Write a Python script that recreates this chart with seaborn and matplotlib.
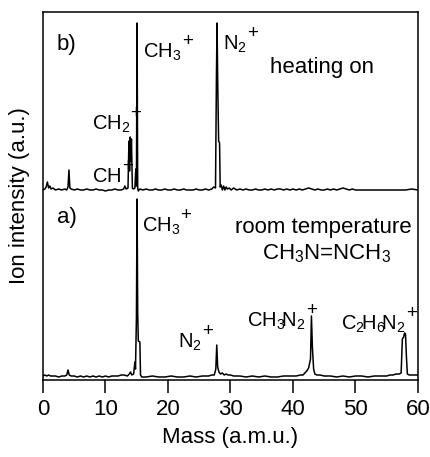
import matplotlib
matplotlib.use("Agg")
import matplotlib.pyplot as plt
import seaborn as sns
import pandas as pd

# ---------------- data ----------------
mass_a = [0.0, 0.3, 0.6, 0.9, 1.2, 1.5, 2.0, 2.5, 3.0, 3.5,
          3.8, 4.0, 4.2, 4.5, 5.0, 5.5, 6.0, 6.5, 7.0, 7.5,
          8.0, 8.5, 9.0, 9.5, 10.0, 10.5, 11.0, 11.5, 12.0, 12.5,
          13.0, 13.5, 13.8, 14.0, 14.2, 14.5, 14.7, 14.8, 14.95, 15.05,
          15.15, 15.25, 15.5, 15.6, 15.8, 16.5, 17.5, 18.5, 19.5, 20.5,
          21.5, 22.5, 23.5, 24.5, 25.5, 26.5, 27.0, 27.4, 27.65, 27.8,
          27.95, 28.15, 28.4, 28.7, 29.0, 29.3, 29.6, 30.0, 30.5, 31.5,
          32.5, 33.5, 34.5, 35.5, 36.5, 37.5, 38.5, 39.5, 40.5, 41.2,
          41.6, 41.9, 42.2, 42.5, 42.8, 42.95, 43.1, 43.3, 43.5, 43.8,
          44.3, 45.0, 46.0, 47.0, 48.0, 49.0, 50.0, 51.0, 52.0, 53.0,
          54.0, 55.0, 55.5, 56.0, 56.5, 57.0, 57.3, 57.5, 57.7, 57.85,
          58.0, 58.15, 58.3, 58.6, 59.0, 59.5, 60.0]
int_a = [1, 2, 1, 2, 1, 1, 1, 0, 1, 1,
         2, 7, 2, 1, 1, 0, 1, 0, 1, 0,
         1, 0, 1, 0, 1, 0, 1, 1, 1, 2,
         2, 1, 3, 5, 2, 3, 15, 8, 60, 178,
         65, 36, 35, 2, 0, 0, 1, 0, 0, 1,
         0, 0, 1, 0, 1, 1, 2, 2, 8, 32,
         10, 5, 3, 4, 2, 3, 2, 2, 1, 1,
         0, 1, 0, 1, 0, 0, 1, 1, 1, 2,
         2, 4, 6, 9, 18, 61, 30, 8, 3, 2,
         2, 1, 1, 0, 1, 0, 1, 1, 0, 1,
         1, 1, 2, 2, 3, 3, 4, 38, 40, 44,
         43, 20, 3, 2, 2, 2, 2]

mass_b = [0.0, 0.3, 0.5, 0.7, 0.9, 1.1, 1.3, 1.6, 2.0, 2.5,
          3.0, 3.5, 3.8, 4.0, 4.15, 4.3, 4.5, 5.0, 5.5, 6.0,
          6.5, 7.0, 7.5, 8.0, 8.5, 9.0, 9.5, 10.0, 10.5, 11.0,
          11.5, 12.0, 12.5, 12.9, 13.1, 13.3, 13.6, 13.75, 13.85, 13.95,
          14.05, 14.15, 14.3, 14.45, 14.7, 14.85, 14.95, 15.05, 15.15, 15.25,
          15.5, 16.0, 16.5, 17.0, 17.5, 18.0, 18.5, 19.0, 19.5, 20.0,
          20.5, 21.0, 21.5, 22.0, 22.5, 23.0, 23.5, 24.0, 24.5, 25.0,
          25.5, 26.0, 26.5, 27.0, 27.3, 27.6, 27.75, 27.85, 27.95, 28.1,
          28.25, 28.35, 28.5, 28.7, 28.9, 29.1, 29.3, 29.5, 29.8, 30.1,
          30.5, 31.0, 31.5, 32.0, 32.5, 33.0, 33.5, 34.0, 34.5, 35.0,
          35.5, 36.0, 36.5, 37.0, 37.5, 38.0, 38.5, 39.0, 39.5, 40.0,
          40.5, 41.0, 41.5, 42.0, 42.5, 43.0, 43.5, 44.0, 44.5, 45.0,
          45.5, 46.0, 46.5, 47.0, 47.5, 48.0, 48.5, 49.0, 49.5, 50.0,
          50.5, 51.0, 52.0, 53.0, 54.0, 55.0, 56.0, 57.0, 58.0, 59.0, 60.0]
int_b = [1, 2, 4, 9, 3, 5, 2, 3, 1, 2,
         1, 2, 1, 4, 21, 3, 2, 1, 2, 1,
         1, 2, 1, 1, 2, 1, 1, 0, 1, 1,
         2, 1, 1, 2, 5, 2, 3, 50, 20, 54,
         30, 52, 3, 2, 3, 22, 5, 168, 3, 0,
         2, 1, 2, 1, 1, 2, 1, 1, 2, 1,
         1, 2, 1, 1, 2, 1, 1, 1, 2, 1,
         1, 2, 1, 2, 4, 3, 115, 168, 110, 50,
         48, 4, 6, 1, 5, 1, 4, 2, 3, 1,
         3, 1, 2, 1, 2, 1, 1, 2, 1, 1,
         2, 1, 2, 1, 2, 2, 1, 2, 1, 2,
         1, 2, 1, 2, 3, 2, 1, 2, 1, 1,
         2, 1, 2, 1, 2, 3, 2, 1, 2, 1,
         1, 1, 1, 1, 1, 1, 1, 1, 1, 2, 1]

offset_a = 3
offset_b = 189
x_ticks = [0, 10, 20, 30, 40, 50, 60]

ion_labels = [r"$\mathregular{CH_3}$", r"$\mathregular{N_2}$",
              r"$\mathregular{CH_2}$", r"$\mathregular{CH}$",
              r"$\mathregular{CH_3}$", r"$\mathregular{N_2}$",
              r"$\mathregular{CH_3\!N_2}$", r"$\mathregular{C_2\!H_6\!N_2}$"]

# ---------------- style ----------------
sns.set_theme(style="ticks")
plt.rcParams["font.family"] = ["Liberation Sans", "DejaVu Sans"]
plt.rcParams["mathtext.fontset"] = "custom"
plt.rcParams["mathtext.rm"] = "Liberation Sans"
plt.rcParams["mathtext.it"] = "Liberation Sans"
plt.rcParams["mathtext.bf"] = "Liberation Sans:bold"

FS = 16
FS_ION = 14.5
fig = plt.figure(figsize=(4.31, 4.57), dpi=100)
ax = fig.add_axes([43 / 431, 1 - 380 / 457, 375 / 431, 368 / 457])

df_a = pd.DataFrame({"mass": mass_a, "y": [v + offset_a for v in int_a]})
df_b = pd.DataFrame({"mass": mass_b, "y": [v + offset_b for v in int_b]})
sns.lineplot(data=df_a, x="mass", y="y", ax=ax, color="black", lw=1.1,
             estimator=None, sort=False)
sns.lineplot(data=df_b, x="mass", y="y", ax=ax, color="black", lw=1.1,
             estimator=None, sort=False)

ax.set_xlim(0, 60)
ax.set_ylim(0, 368)
ax.set_xticks(x_ticks)
ax.set_yticks([])
for s in ax.spines.values():
    s.set_linewidth(1.1)
    s.set_color("black")
ax.tick_params(axis="x", direction="out", length=9.5, width=1.1,
               labelsize=FS, pad=4, colors="black")
ax.set_xlabel("Mass (a.m.u.)", fontsize=FS, labelpad=5, color="black")
ax.set_ylabel("Ion intensity (a.u.)", fontsize=FS, labelpad=9, color="black")

def label(x, y, s, ha="left", fs=FS):
    return ax.text(x, y, s, fontsize=fs, ha=ha, va="baseline", color="black")

def ion(x, y, s, gap=0.3):
    t = label(x, y, s, fs=FS_ION)
    ax.annotate("+", xy=(1, 1), xycoords=t, xytext=(gap, 0.5),
                textcoords="offset points", fontsize=13.5,
                ha="left", va="center", color="black")

# panel b
label(2.2, 330, "b)")
label(44.6, 307, "heating on", ha="center")
ion(16.0, 322, ion_labels[0])
ion(28.8, 330, ion_labels[1])
ion(7.8, 250, ion_labels[2])
ion(7.8, 198, ion_labels[3], gap=1.0)
# panel a
label(2.2, 157, "a)")
label(44.9, 147, "room temperature", ha="center")
label(45.3, 121, r"CH$_3$N=NCH$_3$", ha="center")
ion(15.8, 148, ion_labels[4])
ion(21.6, 32, ion_labels[5])
ion(32.6, 53, ion_labels[6])
ion(47.7, 50, ion_labels[7])

fig.savefig("out.png", dpi=100)
